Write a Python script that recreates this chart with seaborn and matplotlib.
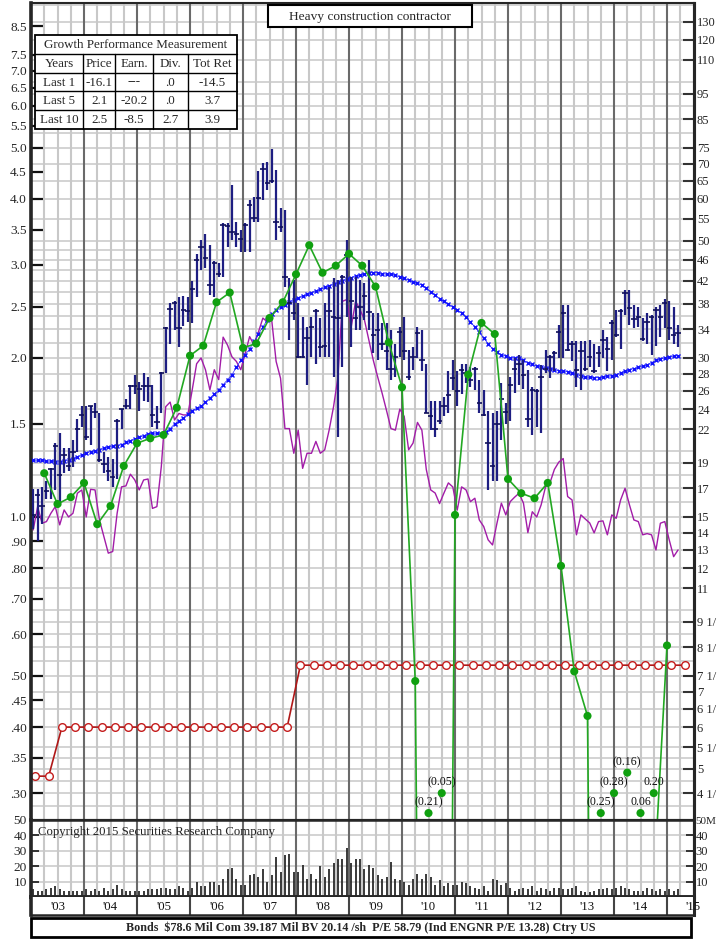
import numpy as np
import matplotlib
matplotlib.use("Agg")
import matplotlib.pyplot as plt
from matplotlib.patches import Rectangle
from matplotlib.ticker import NullLocator
import seaborn as sns

# ---------------- DATA ----------------
year_labels = ["'03", "'04", "'05", "'06", "'07", "'08", "'09", "'10", "'11", "'12", "'13", "'14", "'15"]

price_high = [1.13, 1.13, 1.14, 1.17, 1.24, 1.38, 1.44, 1.35, 1.35, 1.40, 1.53, 1.62,
              1.62, 1.62, 1.64, 1.57, 1.33, 1.30, 1.29, 1.53, 1.60, 1.67, 1.78, 1.86,
              1.80, 1.87, 1.84, 1.78, 1.62, 1.88, 2.29, 2.54, 2.56, 2.61, 2.62, 2.61,
              2.80, 3.15, 3.34, 3.44, 3.27, 3.05, 3.02, 3.60, 3.61, 4.26, 3.62, 3.49,
              3.60, 3.98, 4.04, 4.51, 4.67, 4.70, 4.98, 4.54, 3.84, 3.82, 2.83, 2.81,
              2.54, 2.39, 2.29, 2.39, 2.48, 2.38, 2.54, 2.73, 2.83, 2.81, 2.87, 3.34,
              2.85, 2.85, 2.81, 2.77, 3.07, 2.43, 2.43, 2.33, 2.33, 2.26, 2.13, 2.29,
              2.39, 2.07, 2.10, 2.29, 2.26, 1.95, 1.66, 1.66, 1.66, 1.69, 1.89, 1.98,
              1.89, 1.95, 1.95, 1.92, 1.92, 1.82, 1.74, 1.59, 1.57, 1.59, 1.79, 1.64,
              1.84, 2.00, 2.03, 1.98, 1.90, 1.76, 1.75, 1.94, 2.07, 2.03, 2.06, 2.31,
              2.52, 2.52, 2.15, 2.15, 2.15, 2.15, 2.16, 2.13, 2.11, 2.26, 2.19, 2.36,
              2.47, 2.48, 2.69, 2.69, 2.52, 2.50, 2.38, 2.43, 2.41, 2.50, 2.52, 2.59,
              2.56, 2.50, 2.31]
price_low = [0.95, 0.90, 0.97, 1.08, 1.08, 1.125, 1.05, 1.21, 1.22, 1.245, 1.33, 1.48,
             1.40, 1.37, 1.54, 1.27, 1.21, 1.17, 1.14, 1.18, 1.47, 1.60, 1.60, 1.71,
             1.59, 1.66, 1.65, 1.48, 1.47, 1.57, 1.87, 2.13, 2.26, 2.10, 2.30, 2.34,
             2.33, 2.61, 2.93, 2.96, 2.63, 2.61, 2.85, 2.85, 3.25, 3.34, 3.25, 3.18,
             3.18, 3.18, 3.62, 3.62, 3.98, 4.16, 4.28, 3.34, 3.47, 2.73, 2.16, 2.36,
             2.00, 2.00, 1.78, 2.01, 1.95, 2.01, 2.01, 2.01, 1.84, 1.42, 1.92, 2.39,
             2.10, 2.26, 2.26, 2.36, 2.26, 2.04, 1.98, 2.07, 1.90, 1.82, 1.84, 2.01,
             1.98, 1.82, 1.90, 2.00, 1.89, 1.57, 1.46, 1.42, 1.50, 1.55, 1.57, 1.74,
             1.62, 1.71, 1.79, 1.76, 1.74, 1.57, 1.55, 1.125, 1.17, 1.17, 1.40, 1.50,
             1.52, 1.72, 1.78, 1.75, 1.48, 1.43, 1.48, 1.44, 1.87, 1.83, 1.89, 2.00,
             2.00, 2.06, 1.97, 1.76, 1.74, 1.89, 1.92, 1.87, 1.92, 2.00, 1.89, 1.98,
             2.19, 2.08, 2.41, 2.31, 2.28, 2.29, 2.15, 2.13, 2.03, 2.11, 2.19, 2.28,
             2.16, 2.13, 2.10]
price_close = [1.01, 1.10, 1.05, 1.12, 1.23, 1.36, 1.20, 1.31, 1.25, 1.33, 1.47, 1.56,
               1.42, 1.62, 1.58, 1.28, 1.26, 1.22, 1.19, 1.52, 1.60, 1.62, 1.77, 1.77,
               1.75, 1.77, 1.77, 1.56, 1.51, 1.87, 2.28, 2.48, 2.54, 2.28, 2.47, 2.45,
               2.70, 3.07, 3.25, 3.09, 2.75, 3.02, 2.89, 3.57, 3.55, 3.47, 3.44, 3.36,
               3.57, 3.90, 3.68, 4.01, 4.55, 4.28, 4.33, 3.62, 3.54, 2.85, 2.54, 2.43,
               2.01, 2.01, 2.18, 2.29, 2.45, 2.10, 2.11, 2.45, 2.39, 2.38, 2.85, 3.13,
               2.56, 2.38, 2.50, 2.62, 2.44, 2.21, 2.26, 2.13, 2.06, 1.91, 2.01, 2.24,
               2.06, 1.84, 2.01, 2.23, 1.98, 1.57, 1.55, 1.47, 1.52, 1.62, 1.70, 1.83,
               1.73, 1.90, 1.87, 1.82, 1.91, 1.64, 1.56, 1.38, 1.25, 1.50, 1.67, 1.58,
               1.78, 1.91, 1.95, 1.86, 1.53, 1.74, 1.73, 1.84, 1.91, 2.01, 2.04, 2.24,
               2.43, 2.07, 2.13, 1.90, 2.06, 1.91, 2.01, 1.89, 2.04, 2.16, 2.08, 2.33,
               2.21, 2.45, 2.66, 2.49, 2.37, 2.39, 2.17, 2.34, 2.39, 2.47, 2.39, 2.54,
               2.28, 2.21, 2.23]
moving_avg = [1.28, 1.28, 1.28, 1.275, 1.275, 1.27, 1.27, 1.275, 1.28, 1.29, 1.30, 1.31,
              1.32, 1.33, 1.335, 1.34, 1.35, 1.355, 1.36, 1.365, 1.37, 1.385, 1.395, 1.405,
              1.415, 1.425, 1.435, 1.44, 1.44, 1.435, 1.45, 1.47, 1.50, 1.52, 1.54, 1.565,
              1.59, 1.605, 1.62, 1.65, 1.68, 1.71, 1.74, 1.78, 1.82, 1.86, 1.92, 1.98,
              2.03, 2.08, 2.15, 2.22, 2.29, 2.36, 2.42, 2.47, 2.50, 2.52, 2.55, 2.58,
              2.60, 2.62, 2.64, 2.66, 2.68, 2.70, 2.72, 2.74, 2.76, 2.78, 2.80, 2.82,
              2.84, 2.86, 2.87, 2.88, 2.90, 2.90, 2.90, 2.89, 2.88, 2.88, 2.87, 2.85,
              2.83, 2.81, 2.79, 2.77, 2.75, 2.71, 2.67, 2.63, 2.59, 2.56, 2.53, 2.50,
              2.47, 2.43, 2.39, 2.34, 2.29, 2.24, 2.18, 2.13, 2.08, 2.05, 2.03, 2.015,
              2.00, 2.00, 2.00, 1.98, 1.96, 1.945, 1.93, 1.92, 1.915, 1.91, 1.90, 1.89,
              1.888, 1.885, 1.875, 1.86, 1.85, 1.84, 1.837, 1.835, 1.835, 1.84, 1.845, 1.85,
              1.86, 1.875, 1.89, 1.90, 1.91, 1.92, 1.93, 1.94, 1.96, 1.98, 1.99, 2.00,
              2.01, 2.015, 2.02]
rel_strength = [0.945, 1.046, 0.973, 0.98, 1.016, 1.046, 0.966, 1.031, 1.0, 1.016, 1.109, 1.125,
                1.0, 1.128, 1.125, 0.987, 0.918, 0.854, 0.86, 1.016, 1.14, 1.145, 1.205, 1.175,
                1.125, 1.175, 1.18, 1.038, 1.046, 1.245, 1.617, 1.65, 1.526, 1.57, 1.56, 1.56,
                1.74, 1.95, 2.0, 1.90, 1.74, 1.90, 1.82, 2.19, 2.115, 2.01, 1.97, 1.90,
                2.04, 2.195, 2.115, 2.24, 2.38, 2.34, 2.36, 1.97, 1.83, 1.47, 1.47, 1.32,
                1.46, 1.236, 1.32, 1.32, 1.39, 1.32, 1.34, 1.46, 1.617, 1.84, 2.56, 2.58,
                2.29, 2.56, 2.47, 2.36, 2.16, 1.98, 1.84, 1.715, 1.59, 1.47, 1.46, 1.60,
                1.55, 1.34, 1.38, 1.51, 1.46, 1.23, 1.125, 1.11, 1.06, 1.11, 1.16, 1.14,
                1.03, 1.14, 1.125, 1.069, 1.085, 0.987, 0.959, 0.905, 0.885, 0.973, 1.062, 1.009,
                1.069, 1.09, 1.109, 1.062, 0.934, 1.023, 1.0, 1.054, 1.14, 1.16, 1.23, 1.27,
                1.29, 1.093, 1.077, 0.925, 1.009, 0.991, 0.974, 0.933, 0.98, 0.983, 0.925, 1.009,
                0.994, 1.077, 1.133, 1.054, 0.987, 0.98, 0.925, 0.93, 0.925, 0.866, 0.973, 0.98,
                0.905, 0.841, 0.866]
# quarterly earnings trace on the price scale (negative = loss quarters)
earnings = [1.21, 1.058, 1.09, 1.16, 0.969, 1.049, 1.249, 1.379, 1.409, 1.43, 1.61, 2.02,
            2.11, 2.55, 2.66, 2.09, 2.13, 2.38, 2.55, 2.88, 3.27, 2.90, 2.99, 3.15,
            2.99, 2.73, 2.14, 1.76, 0.489, -0.21, -0.05, 1.009, 1.86, 2.33, 2.22, 1.18,
            1.109, 1.085, 1.16, 0.808, 0.51, 0.42, -0.25, -0.28, -0.16, 0.06, 0.20, 0.571]
low_eps_labels = ["(0.21)", "(0.05)", "(0.25)", "(0.28)", "(0.16)", "0.06", "0.20"]
low_eps_month = [90, 93, 129, 132, 135, 138, 141]
low_eps_level = [0.275, 0.300, 0.275, 0.300, 0.328, 0.275, 0.300]
dividends = [0.323, 0.323,
             0.40, 0.40, 0.40, 0.40, 0.40, 0.40, 0.40, 0.40, 0.40, 0.40,
             0.40, 0.40, 0.40, 0.40, 0.40, 0.40, 0.40, 0.40,
             0.524, 0.524, 0.524, 0.524, 0.524, 0.524, 0.524, 0.524, 0.524, 0.524,
             0.524, 0.524, 0.524, 0.524, 0.524, 0.524, 0.524, 0.524, 0.524, 0.524,
             0.524, 0.524, 0.524, 0.524, 0.524, 0.524, 0.524, 0.524, 0.524, 0.524]
volume = [5, 4, 4, 5, 6, 7, 5, 4, 4, 4, 4, 4,
          5, 4, 5, 4, 6, 4, 5, 8, 5, 4, 4, 4,
          4, 4, 5, 5, 5, 6, 6, 5, 5, 7, 6, 4,
          6, 10, 7, 7, 10, 10, 8, 12, 18, 19, 12, 8,
          8, 14, 15, 13, 18, 10, 14, 26, 16, 27, 28, 16,
          16, 21, 12, 15, 12, 20, 13, 18, 22, 25, 25, 32,
          22, 25, 25, 18, 21, 19, 14, 12, 13, 23, 12, 11,
          10, 8, 12, 15, 12, 15, 13, 8, 11, 7, 9, 8,
          8, 10, 9, 7, 6, 5, 7, 4, 12, 11, 8, 9,
          6, 4, 5, 6, 5, 7, 4, 6, 5, 4, 6, 6,
          5, 5, 6, 7, 4, 3, 3, 4, 5, 5, 6, 5,
          6, 7, 6, 5, 4, 4, 4, 6, 5, 4, 5, 4,
          5, 4, 5]

left_ticks = [8.5, 7.5, 7.0, 6.5, 6.0, 5.5, 5.0, 4.5, 4.0, 3.5, 3.0, 2.5, 2.0, 1.5, 1.0,
              0.90, 0.80, 0.70, 0.60, 0.50, 0.45, 0.40, 0.35, 0.30]
left_labels = ["8.5", "7.5", "7.0", "6.5", "6.0", "5.5", "5.0", "4.5", "4.0", "3.5", "3.0",
               "2.5", "2.0", "1.5", "1.0", ".90", ".80", ".70", ".60", ".50", ".45", ".40",
               ".35", ".30"]
right_ticks = [130, 120, 110, 95, 85, 75, 70, 65, 60, 55, 50, 46, 42, 38, 34, 30, 28, 26, 24,
               22, 19, 17, 15, 14, 13, 12, 11, 9.5, 8.5, 7.5, 7, 6.5, 6, 5.5, 5, 4.5]
right_labels = ["130", "120", "110", "95", "85", "75", "70", "65", "60", "55", "50", "46",
                "42", "38", "34", "30", "28", "26", "24", "22", "19", "17", "15", "14", "13",
                "12", "11", "9 1/", "8 1/", "7 1/", "7", "6 1/", "6", "5 1/", "5", "4 1/"]
grid_right = [4.25, 4.5, 4.75, 5, 5.25, 5.5, 6, 6.5, 7, 7.5, 8, 8.5, 9, 9.5, 10, 11, 12, 13,
              14, 15, 16, 17, 18, 19, 20, 22, 24, 26, 28, 30, 32, 34, 36, 38, 40, 42, 44, 46,
              48, 50, 55, 60, 65, 70, 75, 80, 85, 90, 95, 100, 110, 120, 130, 140]
vol_ticks = [10, 20, 30, 40, 50]
vol_left_labels = ["10", "20", "30", "40", "50"]
vol_right_labels = ["10", "20", "30", "40", "50M"]

table_rows = [["Years", "Price", "Earn.", "Div.", "Tot Ret"],
              ["Last 1", "-16.1", "---", ".0", "-14.5"],
              ["Last 5", "2.1", "-20.2", ".0", "3.7"],
              ["Last 10", "2.5", "-8.5", "2.7", "3.9"]]
title_text = "Heavy construction contractor"
footer_text = "Bonds  $78.6 Mil Com 39.187 Mil BV 20.14 /sh  P/E 58.79 (Ind ENGNR P/E 13.28) Ctry US"
copyright_text = "Copyright 2015 Securities Research Company"

# ---------------- STYLE ----------------
sns.set_style("white")
plt.rcParams["font.family"] = ["Liberation Serif", "DejaVu Serif"]
plt.rcParams["axes.linewidth"] = 1.5

W, H = 718, 941
def rect(x0, y0, x1, y1):
    return [x0 / W, 1 - y1 / H, (x1 - x0) / W, (y1 - y0) / H]

fig = plt.figure(figsize=(W / 100, H / 100), dpi=100)
fig.patch.set_facecolor("white")

XMIN, XMAX = 0, 150
PLO, PHI = 0.2668, 9.40
LIGHT = "#c8c8c8"
DARK = "#6a6a6a"

months = np.arange(len(price_close)) + 0.5
q_lines = np.arange(0, 151, 3)
y_lines = np.arange(0, 151, 12)

# ---------------- PRICE PANEL ----------------
ax = fig.add_axes(rect(31, 3, 693.5, 820))
ax.set_yscale("log")
ax.set_xlim(XMIN, XMAX)
ax.set_ylim(PLO, PHI)
for g in grid_right:
    ax.axhline(g / 15.0, color=LIGHT, lw=1.1, zorder=0.5)
for q in q_lines:
    ax.axvline(q, color=DARK if q % 12 == 0 else LIGHT, lw=1.5, zorder=0.6)

div_x = np.arange(len(dividends)) * 3 + 1
sns.lineplot(x=div_x, y=dividends, ax=ax, color="#b01818", lw=1.2, marker="o",
             markersize=5.5, markerfacecolor="white", markeredgecolor="#c41c1c",
             markeredgewidth=1.0, legend=False, zorder=2)

sns.lineplot(x=months, y=rel_strength, ax=ax, color="#a21ca8", lw=1.0, legend=False, zorder=2.5)

sns.lineplot(x=months, y=moving_avg, ax=ax, color="#2a2aff", lw=0.5, marker="x",
             markersize=3.0, markeredgewidth=1.0, markeredgecolor="#1010ff",
             legend=False, zorder=3)

ax.vlines(months, price_low, price_high, color="#1e1e82", lw=1.6, zorder=3.5)
ax.hlines(price_close, months - 0.6, months + 0.6, color="#10105a", lw=1.2, zorder=3.6)

eps = np.array(earnings)
eps_x = np.arange(1, len(eps) + 1) * 3
eps_line = np.where(eps > 0, eps, 1e-3)
sns.lineplot(x=eps_x, y=eps_line, ax=ax, color="#22a822", lw=1.2, legend=False, zorder=4)
pos = eps > 0
sns.scatterplot(x=eps_x[pos], y=eps[pos], ax=ax, color="#10a010", s=34, edgecolor="none",
                legend=False, zorder=4.2)
sns.scatterplot(x=low_eps_month, y=low_eps_level, ax=ax, color="#10a010", s=34,
                edgecolor="none", legend=False, zorder=4.2)
for lab, mx, lv in zip(low_eps_labels, low_eps_month, low_eps_level):
    ax.annotate(lab, (mx, lv), xytext=(0, 7.8), textcoords="offset points",
                ha="center", va="center", fontsize=8.6, color="#111111", zorder=5)

ax.set_xticks([])
ax.yaxis.set_minor_locator(NullLocator())
ax.set_yticks(left_ticks)
ax.set_yticklabels(left_labels)
ax.tick_params(axis="y", direction="in", length=9, width=1.6, pad=3, labelsize=9.6,
               color="#111111")
ax.set_xlabel("")
ax.set_ylabel("")
ax.spines["left"].set_linewidth(2.6)
ax.spines["top"].set_linewidth(1.2)
ax.spines["bottom"].set_linewidth(1.8)
ax.spines["right"].set_linewidth(2.2)

ax2 = ax.twinx()
ax2.set_yscale("log")
ax2.set_ylim(PLO * 15, PHI * 15)
ax2.yaxis.set_minor_locator(NullLocator())
ax2.set_yticks(right_ticks)
ax2.set_yticklabels(right_labels)
ax2.tick_params(axis="y", direction="in", length=8, width=1.5, pad=2.5, labelsize=9.0,
                color="#333333")
ax2.spines["right"].set_linewidth(2.2)

# ---------------- VOLUME PANEL ----------------
axv = fig.add_axes(rect(31, 820, 693.5, 897))
axv.set_xlim(XMIN, XMAX)
axv.set_ylim(0, 50)
for v in vol_ticks[:-1]:
    axv.axhline(v, color=LIGHT, lw=1.1, zorder=0.5)
for q in q_lines:
    axv.axvline(q, color=DARK if q % 12 == 0 else LIGHT, lw=1.5, zorder=0.6)
axv.vlines(months, 0, volume, color="#2a2a2a", lw=1.3, zorder=3)
axv.set_xticks([])
axv.set_yticks(vol_ticks)
axv.set_yticklabels(vol_left_labels)
axv.tick_params(axis="y", direction="in", length=6, width=1.3, pad=3, labelsize=9.6)
axv.spines["left"].set_linewidth(2.6)
axv.spines["bottom"].set_linewidth(2.8)
axv.spines["top"].set_linewidth(1.8)
axv.spines["right"].set_linewidth(2.2)
axv2 = axv.twinx()
axv2.set_ylim(0, 50)
axv2.set_yticks(vol_ticks)
axv2.set_yticklabels(vol_right_labels)
axv2.tick_params(axis="y", direction="in", length=6, width=1.3, pad=1.5, labelsize=9.0)
for t in axv2.get_yticklabels():
    if t.get_text() == "50M":
        t.set_fontsize(8.0)
axv.text(1.5, 42.5, copyright_text, fontsize=9.2, color="#222222", ha="left", va="center",
         zorder=5)

# ---------------- YEAR BAND ----------------
axy = fig.add_axes(rect(31, 897, 693.5, 915))
axy.set_xlim(XMIN, XMAX)
axy.set_ylim(0, 1)
axy.set_xticks([])
axy.set_yticks([])
for yl in y_lines[1:]:
    axy.axvline(yl, color="#444444", lw=1.5)
for i, lab in enumerate(year_labels):
    axy.text(6 + 12 * i, 0.45, lab, ha="center", va="center", fontsize=9.2,
             color="#111111", clip_on=False)
axy.spines["left"].set_linewidth(2.6)
axy.spines["right"].set_linewidth(2.2)
axy.spines["bottom"].set_linewidth(1.8)
axy.spines["top"].set_visible(False)

# ---------------- OVERLAY (boxes, table, footer) ----------------
ov = fig.add_axes([0, 0, 1, 1], zorder=10)
ov.set_xlim(0, W)
ov.set_ylim(H, 0)
ov.axis("off")
ov.patch.set_alpha(0)

ov.add_patch(Rectangle((268, 5), 204, 22, facecolor="white", edgecolor="black", lw=1.5))
ov.text(370, 16.5, title_text, ha="center", va="center", fontsize=9.6)

tx0, tx1 = 35, 237
row_y = [35, 53.5, 73, 91, 109.5, 128.5]
col_x = [35, 83, 115, 153, 188, 237]
ov.add_patch(Rectangle((tx0, row_y[0]), tx1 - tx0, row_y[-1] - row_y[0],
                       facecolor="white", edgecolor="black", lw=1.3))
for yy in row_y[1:-1]:
    ov.plot([tx0, tx1], [yy, yy], color="black", lw=1.0)
for xx in col_x[1:-1]:
    ov.plot([xx, xx], [row_y[1], row_y[-1]], color="black", lw=1.0)
ov.text((tx0 + tx1) / 2, (row_y[0] + row_y[1]) / 2 + 0.5, "Growth Performance Measurement",
        ha="center", va="center", fontsize=9.4)
for r, row in enumerate(table_rows):
    yc = (row_y[r + 1] + row_y[r + 2]) / 2 + 0.5
    for c, cell in enumerate(row):
        xc = (col_x[c] + col_x[c + 1]) / 2
        ov.text(xc, yc, cell, ha="center", va="center", fontsize=9.4)

ov.add_patch(Rectangle((31, 918), 660, 19, facecolor="white", edgecolor="black", lw=2.0))
ov.text(361, 927.8, footer_text, ha="center", va="center", fontsize=8.7, fontweight="bold")

fig.savefig("out.png", dpi=100, facecolor="white")
